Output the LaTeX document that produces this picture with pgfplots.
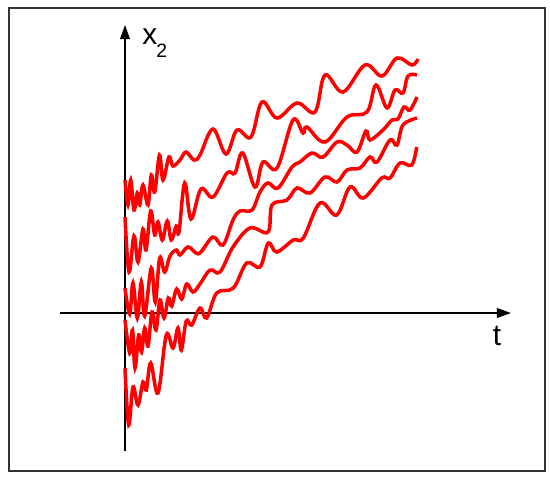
\documentclass[border=0pt]{standalone}
\usepackage{fontspec}
\setmainfont{Liberation Sans}
\usepackage{pgfplots}
\pgfplotsset{compat=1.18}
\usetikzlibrary{arrows.meta}

\pgfplotsset{curve/.style={color=red, line width=2pt, smooth, tension=0.6, mark=none}}

\begin{document}
\begin{tikzpicture}
\begin{axis}[
    width=11cm, height=9.54cm, scale only axis,
    xmin=0, xmax=550, ymin=0, ymax=477, y dir=reverse,
    hide axis, clip=false,
]
% canvas and frame
\path[fill=white] (axis cs:0,0) rectangle (axis cs:550,477);
\draw[black!80, line width=0.9pt] (axis cs:9,8) rectangle (axis cs:545,471);

% axes with arrows
\draw[black, line width=0.9pt, -{Triangle[length=8pt,width=5.5pt]}] (axis cs:125,451) -- (axis cs:125,25);
\draw[black, line width=0.9pt, -{Triangle[length=8pt,width=5.5pt]}] (axis cs:60,313) -- (axis cs:511,313);
\node[font=\fontsize{17}{17}\selectfont, anchor=base west, inner sep=0pt] at (axis cs:142,44) {x};
\node[font=\fontsize{11}{11}\selectfont, anchor=base west, inner sep=0pt] at (axis cs:156,57) {2};
\node[font=\fontsize{17}{17}\selectfont, anchor=base, inner sep=0pt] at (axis cs:497,345) {t};

% curve A (top)
\addplot[curve] coordinates {
(125,180) (128,205) (130.7,180) (134,210) (137.3,193) (139.7,205) (143,185)
(148,205) (151.3,175) (154.7,192) (159.5,155) (163,180) (169,157) (173,166)
(180,160) (186,152) (194,160) (200,155) (213,129) (226,154) (237,130)
(251,137) (262,102) (277,118) (297,103) (315,112) (325,75) (343,92)
(365,65) (382,76) (397,58) (412,65) (418,59)
};

% curve B
\addplot[curve] coordinates {
(125,217) (129,272) (134,236) (138,262) (143,229) (146,250) (150.7,211)
(154.7,235) (158,222) (162.3,240) (167.3,221) (171.3,240) (176.3,226)
(179,232) (184.7,183) (191,219) (201,189) (213,197) (227,173) (235,173)
(242.7,153) (255,187) (263,162) (277,168) (293,120) (303,133) (307,127)
(325,142) (347,117) (367,112) (376,85) (387,108) (395,90) (403,93)
(408,76) (417,75)
};

% curve C
\addplot[curve] coordinates {
(125,288) (129.7,314) (133,283) (137.3,318) (141.3,282) (144.7,316)
(151.3,268) (155.3,302) (159.7,258) (164.7,272) (170,256) (176.3,250)
(180,255) (188,247) (196,253) (201,252) (213,237) (223,245) (233,220)
(240,211) (252,210) (260,192) (268,183) (278,188) (292,167) (300,162)
(312,153) (323,157) (337,142) (347,145) (357,152) (366,131) (370,140)
(383,130) (392,120) (398,119) (404,107) (410,110) (417,97)
};

% curve D
\addplot[curve] coordinates {
(125,320) (129.7,353) (132.5,330) (135,368) (138.7,335) (141.5,352)
(144.7,328) (148,346) (152,312) (156,330) (160,300) (164,318) (168.3,298)
(171.7,306) (176.7,289) (181.7,299) (186.7,284) (193,292) (200,284)
(210,270) (220,272) (233,247) (250,228) (268,232) (272,205) (287,200)
(297,188) (310,193) (325,177) (337,182) (347,170) (360,168) (370,157)
(377,162) (390,140) (397,145) (403,125) (417,118)
};

% curve E (bottom)
\addplot[curve] coordinates {
(125,368) (128.7,425) (133,387) (138,405) (143,382) (146.3,390) (150.7,363)
(158,393) (166.3,335) (173,348) (178,328) (181.3,350) (186.3,321)
(191.7,325) (200,308) (206.7,318) (216.7,293) (233.3,288) (246.7,263)
(260,267) (268.3,243) (276.7,252) (293.3,240) (303.3,238) (320,203)
(336.7,215) (350,187) (363.3,198) (381.7,178) (390,178) (400,163)
(411.7,165) (416.7,147)
};
\end{axis}
\end{tikzpicture}
\end{document}
